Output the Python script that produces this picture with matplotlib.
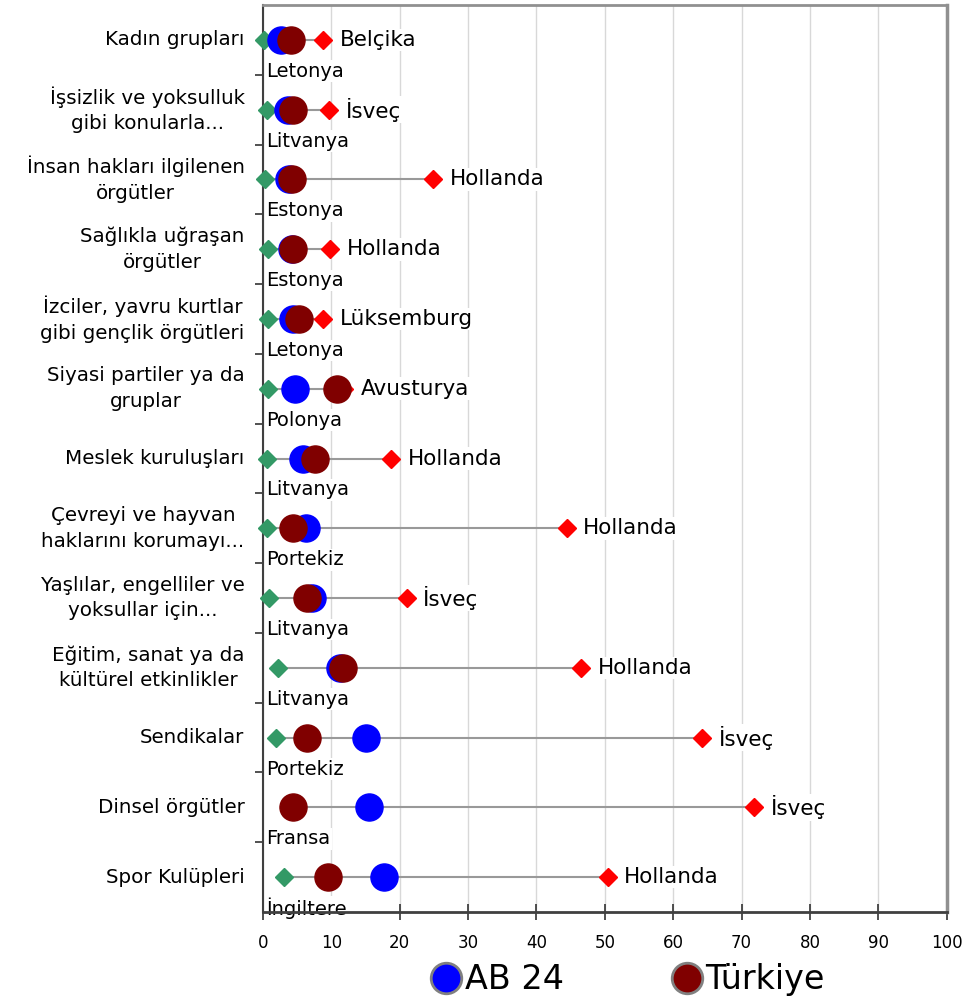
import matplotlib
matplotlib.use("Agg")
import matplotlib.pyplot as plt
from matplotlib.lines import Line2D
import numpy as np

categories = [
    "Kadın grupları",
    "İşsizlik ve yoksulluk\ngibi konularla...",
    "İnsan hakları ilgilenen\nörgütler",
    "Sağlıkla uğraşan\nörgütler",
    "İzciler, yavru kurtlar\ngibi gençlik örgütleri",
    "Siyasi partiler ya da\ngruplar",
    "Meslek kuruluşları",
    "Çevreyi ve hayvan\nhaklarını korumayı...",
    "Yaşlılar, engelliler ve\nyoksullar için...",
    "Eğitim, sanat ya da\nkültürel etkinlikler",
    "Sendikalar",
    "Dinsel örgütler",
    "Spor Kulüpleri",
]
min_vals = [0.2, 0.6, 0.3, 0.7, 0.7, 0.7, 0.6, 0.6, 0.9, 2.2, 1.9, np.nan, 3.1]
min_countries = ["Letonya", "Litvanya", "Estonya", "Estonya", "Letonya", "Polonya",
                 "Litvanya", "Portekiz", "Litvanya", "Litvanya", "Portekiz", "Fransa", "İngiltere"]
max_vals = [8.8, 9.7, 24.9, 9.8, 8.8, 11.9, 18.7, 44.4, 21.0, 46.5, 64.2, 71.8, 50.4]
max_countries = ["Belçika", "İsveç", "Hollanda", "Hollanda", "Lüksemburg", "Avusturya",
                 "Hollanda", "Hollanda", "İsveç", "Hollanda", "İsveç", "İsveç", "Hollanda"]
ab24 = [2.6, 3.7, 3.8, 4.2, 4.4, 4.7, 5.9, 6.3, 7.1, 11.3, 15.1, 15.5, 17.7]
turkiye = [4.1, 4.4, 4.2, 4.4, 5.2, 10.9, 7.6, 4.4, 6.4, 11.7, 6.5, 4.4, 9.5]
xticks = [0, 10, 20, 30, 40, 50, 60, 70, 80, 90, 100]

plt.rcParams['font.family'] = ['DejaVu Sans']

fig = plt.figure(figsize=(9.65, 10.05), dpi=100)
ax = fig.add_axes([0.2725, 0.0925, 0.7085, 0.9025])

n = len(categories)
y = np.arange(n)

BLUE = "#0000ff"
TR = "#800000"
GREEN = "#339966"
RED = "#ff0000"

for i in range(n):
    vals = [min_vals[i], ab24[i], turkiye[i], max_vals[i]]
    lo = np.nanmin(vals)
    hi = np.nanmax(vals)
    ax.plot([lo, hi], [y[i], y[i]], color="#999999", lw=1.5, zorder=2)

ax.plot(min_vals, y, linestyle="none", marker="D", ms=9.5, color=GREEN, mec=GREEN,
        zorder=3, clip_on=False)
ax.plot(max_vals, y, linestyle="none", marker="D", ms=9.5, color=RED, mec=RED,
        zorder=3, clip_on=False)
ax.plot(ab24, y, linestyle="none", marker="o", ms=19.5, color=BLUE, mec=BLUE,
        zorder=4, clip_on=False)
ax.plot(turkiye, y, linestyle="none", marker="o", ms=19.5, color=TR, mec=TR,
        zorder=5, clip_on=False)

bbox = dict(facecolor="white", edgecolor="none", pad=1)
for i in range(n):
    ax.annotate(max_countries[i], (max_vals[i], y[i]), xytext=(12, 0), textcoords="offset points",
                ha="left", va="center", fontsize=15.5, zorder=6, bbox=bbox)
    ax.text(0.5, y[i] + 0.45, min_countries[i], ha="left", va="center", fontsize=14,
            zorder=2.2, bbox=bbox, clip_on=False)

ax.set_xlim(0, 100)
ax.set_ylim(n - 0.5, -0.5)
ax.set_xticks(xticks)
ax.set_xticklabels([str(v) for v in xticks], fontsize=12)
ax.grid(axis="x", color="#d8d8d8", lw=1, zorder=0)
ax.set_axisbelow(True)

ax.set_yticks(np.arange(0.5, n - 0.5, 1))
ax.set_yticklabels([])
ax.tick_params(axis="y", direction="out", length=6, width=1.2, color="#333333")
ax.tick_params(axis="x", direction="inout", length=12, width=1.2, color="#333333", pad=10)

ytrans = ax.get_yaxis_transform()
for i in range(n):
    ax.text(-0.027, y[i], categories[i], transform=ytrans, ha="right", va="center",
            multialignment="center", fontsize=14.3, linespacing=1.45)

ax.spines["left"].set_color("#404040")
ax.spines["left"].set_linewidth(1.5)
ax.spines["bottom"].set_color("#404040")
ax.spines["bottom"].set_linewidth(2)
ax.spines["top"].set_color("#909090")
ax.spines["top"].set_linewidth(2)
ax.spines["right"].set_color("#909090")
ax.spines["right"].set_linewidth(2.5)
for s in ax.spines.values():
    s.set_zorder(2.5)

handles = [
    Line2D([], [], linestyle="none", marker="o", ms=22, color=BLUE, mec="#808080", mew=2),
    Line2D([], [], linestyle="none", marker="o", ms=22, color=TR, mec="#808080", mew=2),
]
fig.legend(handles, ["AB 24", "Türkiye"], loc="center", bbox_to_anchor=(0.65, 0.025),
           ncol=2, frameon=False, fontsize=24, handletextpad=0.05, columnspacing=3.2,
           handlelength=1.0)

fig.savefig("out.png", dpi=100)
